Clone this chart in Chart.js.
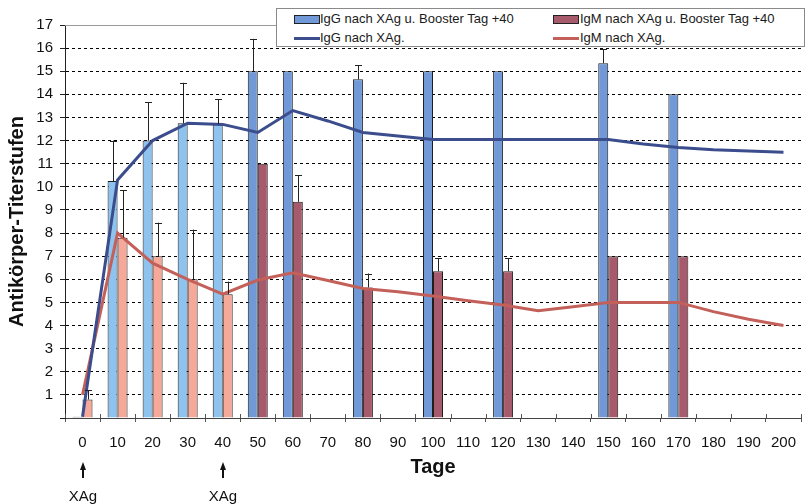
<!DOCTYPE html>
<html><head><meta charset="utf-8">
<script src="https://cdn.jsdelivr.net/npm/chart.js@4/dist/chart.umd.min.js"></script>
<style>
html,body{margin:0;padding:0;background:#fff;overflow:hidden}
#wrap{position:relative;width:808px;height:504px}
#legend{position:absolute;left:276px;top:8px;width:529px;height:39px;border:1px solid #8a8a8a;background:#fff;font:13px "Liberation Sans",Arial,sans-serif;color:#1a1a1a;box-sizing:border-box}
.txt{position:absolute;white-space:nowrap;line-height:16px}
.sw{position:absolute;box-sizing:border-box}
</style></head><body>
<div id="wrap"><canvas id="c" width="808" height="504"></canvas><div id="legend"></div></div>
<script>
// ---- data ----
const categories = ['0','10','20','30','40','50','60','70','80','90','100','110','120','130','140','150','160','170','180','190','200'];
const yTicks = [1,2,3,4,5,6,7,8,9,10,11,12,13,14,15,16,17];
const seriesNames = ['IgG nach XAg u. Booster Tag +40','IgM nach XAg u. Booster Tag +40','IgG nach XAg.','IgM nach XAg.'];
const igGBooster = [0.05,10.25,12.0,12.75,12.7,15.0,15.0,null,14.65,null,15.0,null,15.0,null,null,15.35,null,14.0,null,null,null];
const igMBooster = [0.8,7.8,7.0,6.0,5.35,11.0,9.35,null,5.65,null,6.35,null,6.35,null,null,7.0,null,7.0,null,null,null];
const igGBoosterErrTop = [null,12.0,13.65,14.5,13.8,16.4,null,null,15.25,null,null,null,null,null,null,15.95,null,null,null,null,null];
const igMBoosterErrTop = [1.2,9.85,8.45,8.15,5.9,null,10.5,null,6.25,null,6.9,null,6.9,null,null,null,null,null,null,null,null];
const igGLine = [0.05,10.3,12.0,12.75,12.7,12.35,13.3,12.85,12.35,12.2,12.05,12.05,12.05,12.05,12.05,12.05,11.85,11.7,11.6,11.55,11.5];
const igMLine = [1.0,8.0,6.7,6.0,5.36,5.97,6.28,5.95,5.6,5.46,5.28,5.07,4.89,4.64,4.81,5.0,5.0,5.0,4.6,4.27,4.0];
const xagMarks = ['0','40'];
const xagText = 'XAg';

// ---- styles ----
const FONT = '"Liberation Sans", Arial, sans-serif';
const C = {gLight:'#8dc3ee', gDark:'#7199d8', mLight:'#f6a899', mDark:'#a65a6b', gLine:'#3b4d8c', mLine:'#c4605a'};
const gColors = igGBooster.map((v,i)=> i<5 ? C.gLight : C.gDark);
const mColors = igMBooster.map((v,i)=> i<5 ? C.mLight : C.mDark);

// legend (HTML)
const leg = document.getElementById('legend');
function addTxt(t,l,top){const d=document.createElement('div');d.className='txt';d.style.left=l+'px';d.style.top=top+'px';d.textContent=t;leg.appendChild(d);}
function addSw(l,top,w,h,bg,border){const d=document.createElement('div');d.className='sw';Object.assign(d.style,{left:l+'px',top:top+'px',width:w+'px',height:h+'px',background:bg,border:border});leg.appendChild(d);}
addSw(17,6,26,9,C.gDark,'1px solid #222'); addTxt(seriesNames[0],43,2);
addSw(276,6,26,9,C.mDark,'1px solid #222'); addTxt(seriesNames[1],303,2);
addSw(17,28,26,3,C.gLine,'none'); addTxt(seriesNames[2],43,21);
addSw(276,28,26,3,C.mLine,'none'); addTxt(seriesNames[3],303,21);

const errPlugin = {
  id:'err',
  beforeDatasetsDraw(chart){
    const ctx = chart.ctx, a = chart.chartArea, xs = chart.scales.x;
    ctx.save();
    ctx.strokeStyle='#9a9a9a'; ctx.lineWidth=1;
    ctx.beginPath(); ctx.moveTo(a.left, Math.round(a.top)+0.5); ctx.lineTo(a.right, Math.round(a.top)+0.5); ctx.stroke();
    ctx.strokeStyle='#555';
    const n = categories.length, w = xs.width / n;
    for(let i=0;i<=n;i++){
      const x = Math.round(xs.left + i*w)+0.5;
      ctx.beginPath(); ctx.moveTo(x, a.bottom-4); ctx.lineTo(x, a.bottom); ctx.stroke();
    }
    ctx.restore();
  },
  afterDatasetsDraw(chart){
    const ctx = chart.ctx, y = chart.scales.y;
    const sets = [[0,igGBoosterErrTop,igGBooster],[1,igMBoosterErrTop,igMBooster]];
    ctx.save(); ctx.strokeStyle='#222'; ctx.lineWidth=1;
    sets.forEach(([di,errs,vals])=>{
      const meta = chart.getDatasetMeta(di);
      errs.forEach((e,i)=>{
        if(e==null||vals[i]==null) return;
        const bar = meta.data[i]; const x = Math.round(bar.x)+0.5;
        const y0 = y.getPixelForValue(vals[i]), y1 = y.getPixelForValue(e);
        ctx.beginPath(); ctx.moveTo(x,y0); ctx.lineTo(x,y1);
        ctx.moveTo(x-3.5,Math.round(y1)+0.5); ctx.lineTo(x+3.5,Math.round(y1)+0.5); ctx.stroke();
      });
    });
    ctx.restore();
  },
  afterDraw(chart){
    const ctx = chart.ctx, xs = chart.scales.x;
    ctx.save(); ctx.fillStyle='#111'; ctx.strokeStyle='#111';
    xagMarks.forEach(lab=>{
      const x = Math.round(xs.getPixelForValue(categories.indexOf(lab)));
      ctx.fillRect(x-1,468,2,10);
      ctx.beginPath(); ctx.moveTo(x,462); ctx.lineTo(x-3,470); ctx.lineTo(x+3,470); ctx.closePath(); ctx.fill();
      ctx.font = '15px '+FONT; ctx.textAlign='center'; ctx.textBaseline='alphabetic';
      ctx.fillText(xagText,x,501);
    });
    ctx.restore();
  }
};

Chart.defaults.font.family = FONT;
Chart.defaults.color = '#111';
new Chart(document.getElementById('c'),{
  type:'bar',
  data:{labels:categories,datasets:[
    {type:'bar',label:seriesNames[0],data:igGBooster,backgroundColor:gColors,borderColor:'#1e1e1e',borderWidth:1,order:2,categoryPercentage:0.57,barPercentage:1},
    {type:'bar',label:seriesNames[1],data:igMBooster,backgroundColor:mColors,borderColor:'#1e1e1e',borderWidth:1,order:2,categoryPercentage:0.57,barPercentage:1},
    {type:'line',label:seriesNames[2],data:igGLine,borderColor:C.gLine,borderWidth:3,pointRadius:0,tension:0,order:0},
    {type:'line',label:seriesNames[3],data:igMLine,borderColor:C.mLine,borderWidth:3,pointRadius:0,tension:0,order:0}
  ]},
  options:{
    responsive:false, animation:false, devicePixelRatio:1,
    layout:{padding:{top:25,left:0,right:0,bottom:0}},
    plugins:{legend:{display:false},tooltip:{enabled:false}},
    scales:{
      x:{
        grid:{display:true,drawOnChartArea:false,drawTicks:true,tickLength:4,color:'#555',offset:true},
        border:{display:true,color:'#444',width:1},
        ticks:{font:{size:15},color:'#111',padding:12,maxRotation:0,autoSkip:false},
        title:{display:true,text:'Tage',font:{size:20,weight:'bold'},color:'#111',padding:{top:0,bottom:25}},
        afterFit(s){s.height=86;}
      },
      y:{
        min:0,max:17,
        afterBuildTicks(s){s.ticks=[0].concat(yTicks).map(v=>({value:v}));},
        grid:{color:(c)=> (c.tick.value===0 || c.tick.value===17) ? 'rgba(0,0,0,0)' : '#000',
              tickColor:'#222',tickLength:5,lineWidth:1},
        border:{display:true,color:'#222',width:1,dash:[3,3]},
        ticks:{font:{size:15},color:'#111',padding:7,callback:(v)=> v===0 ? '' : String(v)},
        title:{display:true,text:'Antikörper-Titerstufen',font:{size:20,weight:'bold'},color:'#111',padding:{top:5,bottom:0}},
        afterFit(s){s.width=65;}
      }
    }
  },
  plugins:[errPlugin]
});
</script>
</body></html>
